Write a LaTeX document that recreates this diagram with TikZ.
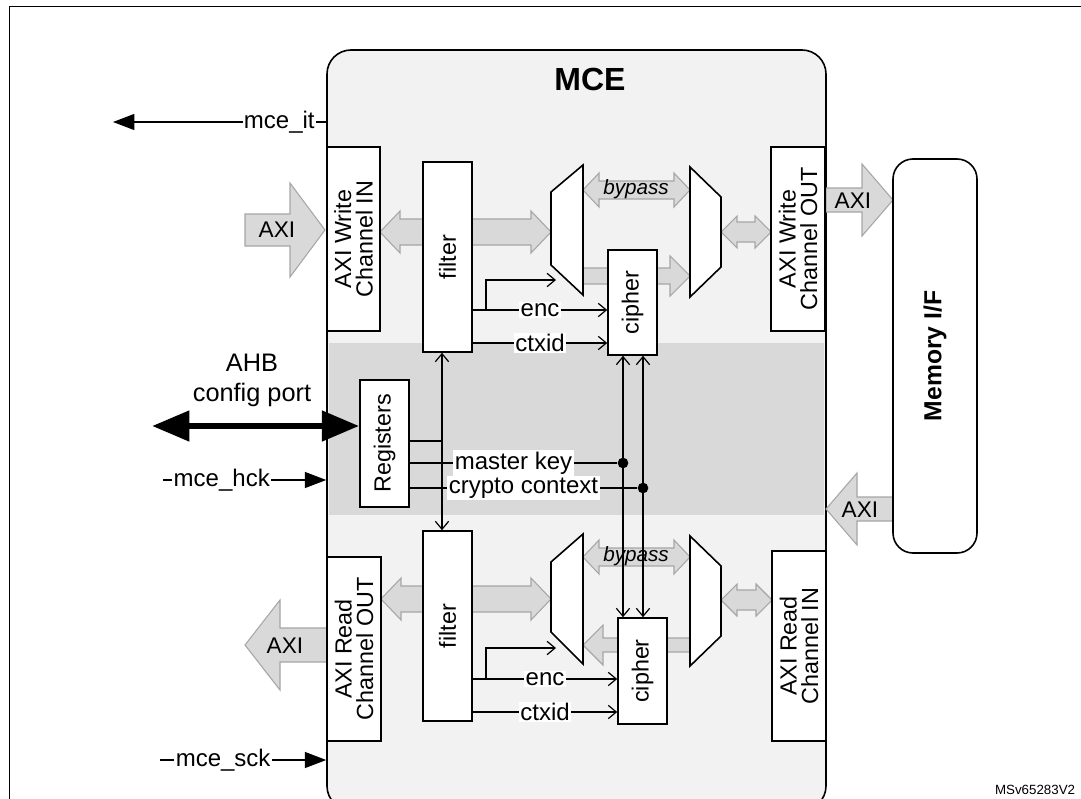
\documentclass[tikz,border=0pt]{standalone}
\usepackage{fontspec}
\setmainfont{Liberation Sans}
\usetikzlibrary{arrows.meta}
\tikzset{every picture/.style={line width=0.75pt}}
\definecolor{busgray}{HTML}{D9D9D9}
\definecolor{busedge}{HTML}{A6A6A6}
\definecolor{mcebg}{HTML}{F2F2F2}
\tikzset{
  box/.style 2 args={draw, line width=1.2pt, fill=white, minimum width=#1*0.75pt, minimum height=#2*0.75pt, inner sep=0pt},
  vtxt/.style={rotate=90, align=center, inner sep=0pt, font=\fontsize{17.5}{16}\selectfont},
  bus/.style={draw=busedge, fill=busgray, line width=0.8pt},
  mux/.style={draw, line width=1.2pt, fill=white},
  sig/.style={line width=0.9pt, -{Straight Barb[length=6pt,width=10pt]}},
  sigb/.style={line width=0.9pt, {Straight Barb[length=6pt,width=10pt]}-{Straight Barb[length=6pt,width=10pt]}},
  ext/.style={line width=0.9pt, -{Triangle[length=16pt,width=12pt]}},
  lab/.style={fill=white, inner sep=1pt, font=\fontsize{18}{18}\selectfont},
  dot/.style={circle, fill=black, inner sep=0pt, minimum size=8pt},
}
% double bus arrow: x1, x2, y, half shaft, half head, head length
\newcommand{\dblbus}[6]{\draw[bus] (#1,#3) -- ({#1+#6},{#3-#5}) -- ({#1+#6},{#3-#4}) -- ({#2-#6},{#3-#4}) -- ({#2-#6},{#3-#5}) -- (#2,#3) -- ({#2-#6},{#3+#5}) -- ({#2-#6},{#3+#4}) -- ({#1+#6},{#3+#4}) -- ({#1+#6},{#3+#5}) -- cycle;}
% single bus arrow: tail x, tip x, y, half shaft, half head, signed head length
\newcommand{\sglbus}[6]{\draw[bus] (#1,{#3-#4}) -- ({#2-(#6)},{#3-#4}) -- ({#2-(#6)},{#3-#5}) -- (#2,#3) -- ({#2-(#6)},{#3+#5}) -- ({#2-(#6)},{#3+#4}) -- (#1,{#3+#4}) -- cycle;}
\begin{document}
\begin{tikzpicture}[x=0.75pt,y=0.75pt,yscale=-1,xscale=1]
\useasboundingbox (0,0) rectangle (1081,799);
\draw (9,810) -- (9,7) -- (1090,7);

% MCE block and register band
\node[draw, line width=1.2pt, fill=mcebg, rounded corners=18pt, minimum width=499*0.75pt, minimum height=760*0.75pt, inner sep=0pt] (mce) at (576.5,430) {};
\fill[busgray] (329,343) rectangle (824,515);
\node[font=\fontsize{24}{24}\selectfont\bfseries] at (590,79) {MCE};

% buses
\sglbus{245}{325}{230}{16}{47}{35}
\node[font=\fontsize{17}{17}\selectfont] at (277,230) {AXI};
\dblbus{380}{551}{232}{13}{21}{20}
\dblbus{583}{690}{190}{9}{17}{16}
\sglbus{583}{690}{276}{8}{20}{20}
\dblbus{721}{771}{232}{10}{16}{16}
\sglbus{826}{893}{200}{12}{36}{31}
\node[font=\fontsize{17}{17}\selectfont] at (853,201) {AXI};
\sglbus{893}{826}{509}{12}{36}{-31}
\node[font=\fontsize{17}{17}\selectfont] at (860,510) {AXI};
\sglbus{327}{245}{645}{17}{45}{-35}
\node[font=\fontsize{17}{17}\selectfont] at (285,646) {AXI};
\dblbus{381}{551}{599}{13}{21}{20}
\dblbus{583}{690}{557}{9}{17}{16}
\sglbus{690}{583}{645}{7}{20}{-20}
\dblbus{721}{772}{600}{10}{16}{16}
\node[font=\fontsize{15.5}{15}\selectfont\itshape] at (636,189) {bypass};
\node[font=\fontsize{15.5}{15}\selectfont\itshape] at (636,556) {bypass};

% blocks
\node[box={53}{184}] (wrIn) at (353.5,239) {};
\node[vtxt] at (wrIn) {AXI Write\\Channel IN};
\node[box={54}{184}] (wrOut) at (798,239) {};
\node[vtxt] at (wrOut) {AXI Write\\Channel OUT};
\node[box={54}{184}] (rdOut) at (354,649) {};
\node[vtxt] at (rdOut) {AXI Read\\Channel OUT};
\node[box={54}{190}] (rdIn) at (799,646) {};
\node[vtxt] at (rdIn) {AXI Read\\Channel IN};
\node[box={49}{190}] (filtW) at (447.5,257) {};
\node[vtxt] at (filtW) {filter};
\node[box={49}{190}] (filtR) at (447.5,626) {};
\node[vtxt] at (filtR) {filter};
\node[box={49}{105}] (ciphW) at (632.5,302.5) {};
\node[vtxt] at (ciphW) {cipher};
\node[box={49}{106}] (ciphR) at (642.5,671) {};
\node[vtxt] at (ciphR) {cipher};
\node[box={49}{127}] (regs) at (384.5,443.5) {};
\node[vtxt] at (regs) {Registers};
\node[box={84}{394}, rounded corners=15pt] (memIf) at (935,356) {};
\node[vtxt, font=\fontsize{18.5}{18}\selectfont\bfseries] at (memIf) {Memory I/F};

% multiplexers
\draw[mux] (551,192) -- (583,165) -- (583,295) -- (551,265) -- cycle;
\draw[mux] (690,167) -- (721,197) -- (721,267) -- (690,297) -- cycle;
\draw[mux] (551,562) -- (583,534) -- (583,664) -- (551,632) -- cycle;
\draw[mux] (690,536) -- (721,566) -- (721,636) -- (690,666) -- cycle;

% control signals, write path
\draw[sig] (filtW.east |- 0,310) -- node[lab]{enc} (ciphW.west |- 0,310);
\draw[sig] (486,310) -- (486,280) -- (556,280);
\draw[sig] (filtW.east |- 0,343) -- node[lab]{ctxid} (ciphW.west |- 0,343);
% control signals, read path
\draw[sig] (filtR.east |- 0,679) -- node[lab]{enc} (ciphR.west |- 0,679);
\draw[sig] (486,679) -- (486,648) -- (556,648);
\draw[sig] (filtR.east |- 0,712) -- node[lab]{ctxid} (ciphR.west |- 0,712);

% registers
\draw[sigb] (filtW.south -| 442,0) -- (filtR.north -| 442,0);
\draw[line width=0.9pt] (regs.east |- 0,441) -- (442,441);
\node[dot] (mkey) at (623,463) {};
\node[dot] (cctx) at (643,488) {};
\draw[line width=0.9pt] (regs.east |- 0,463) -- node[lab, pos=0.5]{master key} (mkey);
\draw[line width=0.9pt] (regs.east |- 0,488) -- node[lab, pos=0.5]{crypto context} (cctx);
\draw[sigb] (ciphW.south -| mkey) -- (ciphR.north -| mkey);
\draw[sigb] (ciphW.south -| cctx) -- (ciphR.north -| cctx);

% external signals
\coordinate (itEnd) at (113,122);
\coordinate (hckStart) at (163,480);
\coordinate (sckStart) at (160,760);
\draw[ext] (mce.west |- itEnd) -- node[lab, pos=0.22]{mce\_it} (itEnd);
\draw[ext] (hckStart) -- node[lab, pos=0.36]{mce\_hck} (mce.west |- hckStart);
\draw[ext] (sckStart) -- node[lab, pos=0.38]{mce\_sck} (mce.west |- sckStart);
\coordinate (ahbEnd) at (152,426);
\draw[line width=5pt, {Triangle[length=28pt,width=22pt]}-{Triangle[length=28pt,width=22pt]}] (ahbEnd) -- (regs.west |- ahbEnd);
\node[font=\fontsize{19}{19}\selectfont] at (252,363) {AHB};
\node[font=\fontsize{19}{19}\selectfont] at (252,395) {config port};

\node[anchor=east, font=\fontsize{10}{10}\selectfont] at (1080,790) {MSv65283V2};
\end{tikzpicture}
\end{document}
